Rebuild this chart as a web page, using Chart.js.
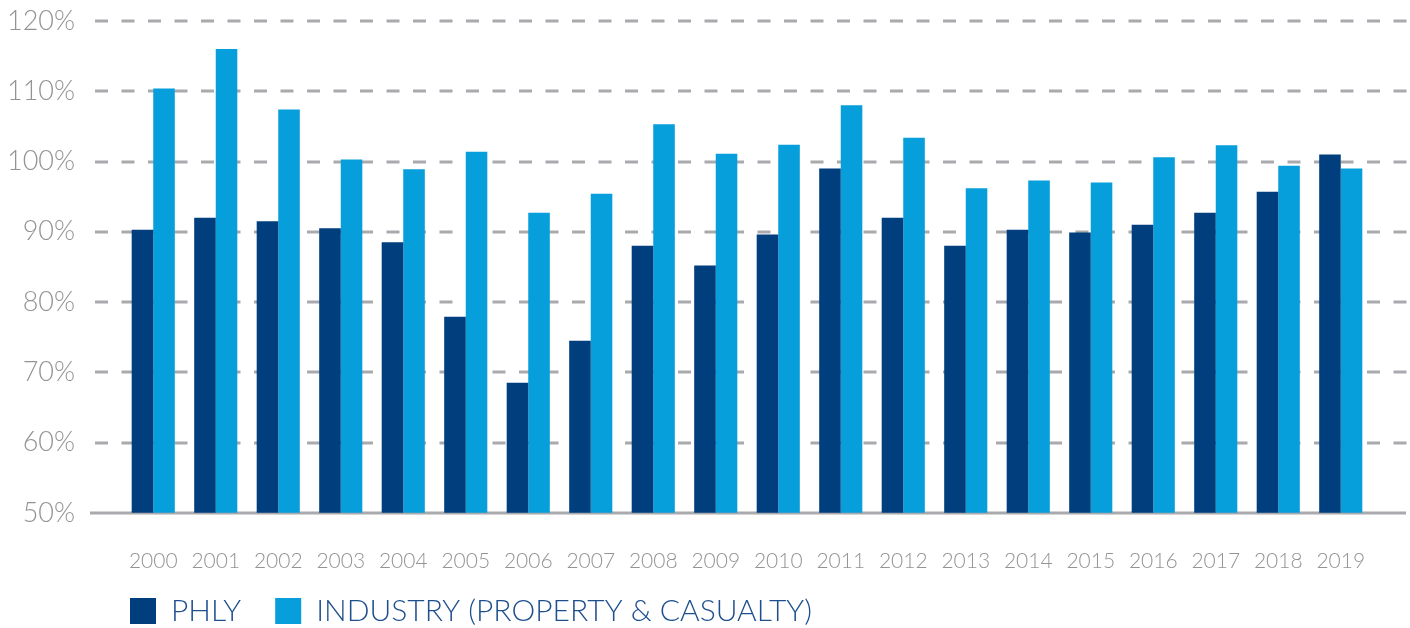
<!DOCTYPE html>
<html>
<head>
<meta charset="utf-8">
<script src="https://cdn.jsdelivr.net/npm/chart.js@4/dist/chart.umd.min.js"></script>
<style>
  html, body { margin: 0; padding: 0; background: #fff; }
  #wrap { width: 1410px; height: 628px; position: relative; }
</style>
</head>
<body>
<div id="wrap"><canvas id="mycanvas"></canvas></div>
<script>
// data (combined ratio, %)
var years = ["2000","2001","2002","2003","2004","2005","2006","2007","2008","2009",
             "2010","2011","2012","2013","2014","2015","2016","2017","2018","2019"];
var phly = [90.3, 92.0, 91.5, 90.5, 88.5, 77.9, 68.5, 74.5, 88.0, 85.2,
            89.6, 99.0, 92.0, 88.0, 90.3, 89.9, 91.0, 92.7, 95.7, 101.0];
var industry = [110.4, 116.0, 107.4, 100.3, 98.9, 101.4, 92.7, 95.4, 105.3, 101.1,
                102.4, 108.0, 103.4, 96.2, 97.3, 97.0, 100.6, 102.3, 99.4, 99.0];
var yTicks = [50, 60, 70, 80, 90, 100, 110, 120];

var gridColor = "#a9aaae";
var tickColor = "#949494";

// dashed grid + solid base line, wider than the plot area like the original
var gridLines = {
	id: "gridLines",
	beforeDatasetsDraw: function(chart){
		var ctx = chart.ctx;
		var y = chart.scales.y;
		ctx.save();
		ctx.strokeStyle = gridColor;
		ctx.lineWidth = 3;
		for (var i in yTicks) {
			var py = Math.round(y.getPixelForValue(yTicks[i]));
			ctx.beginPath();
			if (yTicks[i] === 50) {
				ctx.setLineDash([]);
				ctx.moveTo(90, py);
				ctx.lineTo(1406, py);
			} else {
				ctx.setLineDash([13, 13.5]);
				ctx.moveTo(95, py);
				ctx.lineTo(1410, py);
			}
			ctx.stroke();
		}
		ctx.restore();
	}
};

// put the legend under the axis labels, left aligned with the first bar
var legendSpot = {
	id: "legendSpot",
	afterLayout: function(chart){
		var lg = chart.legend;
		var pad = lg.options.labels.padding;
		lg.left = 130 - pad;
		lg.right = 1410;
		lg.top = 596 - pad;
		lg.bottom = 628;
	}
};

var chartdata = {
	labels: years,
	datasets: [
		{
			label: "PHLY",
			backgroundColor: "#003e7d",
			borderWidth: 0,
			data: phly
		},
		{
			label: "INDUSTRY (PROPERTY & CASUALTY)",
			backgroundColor: "#069edb",
			borderWidth: 0,
			data: industry
		}
	]
};

var ctx = document.getElementById("mycanvas");

var BarGraph = new Chart(ctx, {
	type: "bar",
	data: chartdata,
	plugins: [gridLines, legendSpot],
	options: {
		responsive: true,
		maintainAspectRatio: false,
		animation: false,
		layout: { padding: { left: 0, right: 38, top: 21, bottom: 17 } },
		datasets: { bar: { barPercentage: 1, categoryPercentage: 0.69 } },
		scales: {
			x: {
				grid: { display: false, drawTicks: false },
				border: { display: false },
				ticks: {
					color: tickColor,
					padding: 36,
					maxRotation: 0,
					autoSkip: false,
					font: { family: "Lato", size: 21, weight: "300" }
				}
			},
			y: {
				min: 50,
				max: 120,
				grid: { display: false, drawTicks: false },
				border: { display: false },
				afterFit: function(scale){
					scale.width = 122;
					scale.paddingTop = 0;
					scale.paddingBottom = 0;
				},
				ticks: {
					stepSize: 10,
					padding: 47,
					color: tickColor,
					font: { family: "Lato", size: 27, weight: "300" },
					callback: function(v){ return v + "%"; }
				}
			}
		},
		plugins: {
			tooltip: { enabled: false },
			legend: {
				position: "bottom",
				align: "start",
				maxHeight: 1,
				labels: {
					boxWidth: 26,
					boxHeight: 26,
					padding: 34,
					color: "#1d4f8f",
					font: { family: "Lato", size: 30, weight: "300" }
				}
			}
		}
	}
});
</script>
</body>
</html>
